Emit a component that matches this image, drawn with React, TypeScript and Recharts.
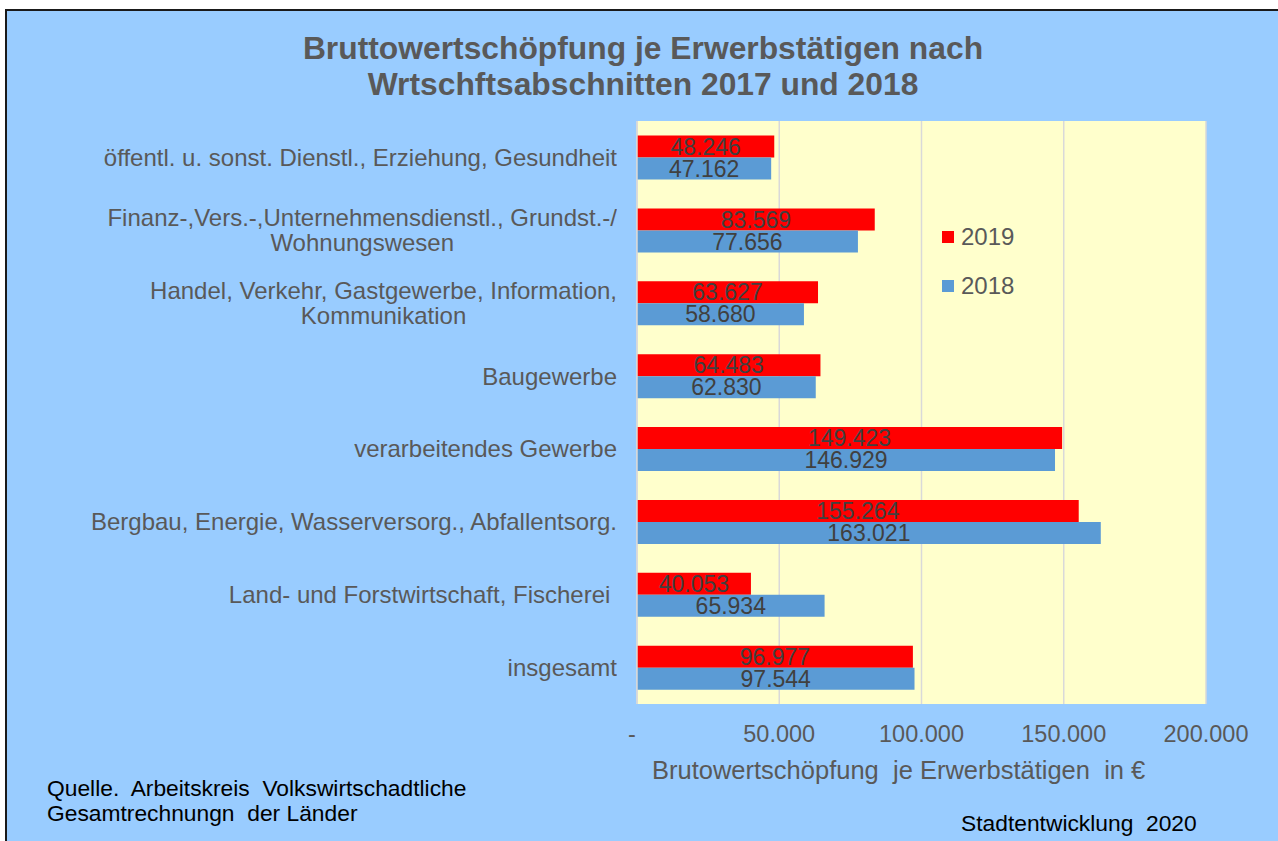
import React from 'react';
import { BarChart, Bar, XAxis, YAxis, CartesianGrid, LabelList, Legend } from 'recharts';

const categories = [
  'öffentl. u. sonst. Dienstl., Erziehung, Gesundheit',
  'Finanz-,Vers.-,Unternehmensdienstl., Grundst.-/\nWohnungswesen',
  'Handel, Verkehr, Gastgewerbe, Information,\nKommunikation',
  'Baugewerbe',
  'verarbeitendes Gewerbe',
  'Bergbau, Energie, Wasserversorg., Abfallentsorg.',
  'Land- und Forstwirtschaft, Fischerei ',
  'insgesamt',
];
const values2019 = [48246, 83569, 63627, 64483, 149423, 155264, 40053, 96977];
const values2018 = [47162, 77656, 58680, 62830, 146929, 163021, 65934, 97544];
const xTicks = [0, 50000, 100000, 150000, 200000];

const series = [
  { key: 'y2019', name: '2019', color: '#FF0000' },
  { key: 'y2018', name: '2018', color: '#5B9BD5' },
];

const data = categories.map((name, i) => ({ name, y2019: values2019[i], y2018: values2018[i] }));

const FONT = '"Liberation Sans", Arial, sans-serif';
const GREY = '#595959';

const fmt = (v: any) => {
  const n = Number(v);
  if (n === 0) return '-';
  return String(Math.round(n)).replace(/\B(?=(\d{3})+(?!\d))/g, '.');
};

const CategoryTick = (props: any) => {
  const { x, y, payload } = props;
  const lines = String(payload.value).split('\n');
  const right = x - 12;
  return (
    <foreignObject x={0} y={y - 35} width={right} height={70}>
      <div
        style={{
          width: '100%',
          height: '100%',
          display: 'flex',
          alignItems: 'center',
          justifyContent: 'flex-end',
          fontFamily: FONT,
          fontSize: 24,
          color: GREY,
          lineHeight: '25px',
        }}
      >
        <div style={{ textAlign: 'center', whiteSpace: 'pre' }}>
          {lines.map((l, i) => (
            <div key={i}>{l}</div>
          ))}
        </div>
      </div>
    </foreignObject>
  );
};

const ValueTick = (props: any) => {
  const { x, y, payload } = props;
  const isZero = Number(payload.value) === 0;
  return (
    <text
      x={isZero ? x - 5 : x}
      y={y}
      dy={16}
      textAnchor="middle"
      fontFamily={FONT}
      fontSize={23.5}
      fill={GREY}
    >
      {fmt(payload.value)}
    </text>
  );
};

const LegendContent = () => (
  <div style={{ fontFamily: FONT, fontSize: 24, color: GREY }}>
    {series.map((s) => (
      <div key={s.key} style={{ display: 'flex', alignItems: 'center', height: 49 }}>
        <div style={{ width: 12, height: 12, background: s.color, marginRight: 7 }} />
        <span>{s.name}</span>
      </div>
    ))}
  </div>
);

export default function App() {
  return (
    <div style={{ position: 'absolute', left: 0, top: 0, width: 1278, height: 841, overflow: 'hidden' }}>
      <div
        style={{
          position: 'absolute',
          left: 5,
          top: 9,
          width: 1290,
          height: 850,
          background: '#99CCFF',
          borderLeft: '2px solid #1a1a1a',
          borderTop: '2px solid #1a1a1a',
        }}
      />
      <div style={{ position: 'absolute', left: 0, top: 0 }}>
        <BarChart
          width={1278}
          height={841}
          data={data}
          layout="vertical"
          margin={{ top: 121, right: 72, bottom: 97, left: 0 }}
          barCategoryGap="20%"
          barGap={0}
        >
          <CartesianGrid horizontal={false} fill="#FFFFCC" stroke="#D9D9D9" strokeWidth={1.5} />
          <XAxis
            type="number"
            domain={[0, 200000]}
            ticks={xTicks}
            tick={<ValueTick />}
            axisLine={false}
            tickLine={false}
            tickMargin={16}
            height={40}
            interval={0}
          />
          <YAxis
            type="category"
            dataKey="name"
            width={637}
            tick={<CategoryTick />}
            axisLine={{ stroke: '#D9D9D9', strokeWidth: 1.5 }}
            tickLine={false}
            interval={0}
          />
          <Legend
            layout="horizontal"
            verticalAlign="middle"
            align="center"
            content={<LegendContent />}
            wrapperStyle={{ position: 'absolute', left: 942, top: 212, width: 120, height: 100 }}
          />
          {series.map((s) => (
            <Bar key={s.key} dataKey={s.key} name={s.name} fill={s.color} isAnimationActive={false}>
              <LabelList
                dataKey={s.key}
                position="center"
                formatter={fmt}
                fill="#404040"
                fontSize={23}
                fontFamily={FONT}
              />
            </Bar>
          ))}
        </BarChart>
      </div>
      <svg
        width={1278}
        height={841}
        style={{ position: 'absolute', left: 0, top: 0, pointerEvents: 'none' }}
        fontFamily={FONT}
      >
        <text x={643} y={59} textAnchor="middle" fontSize={31.8} fontWeight="bold" fill={GREY}>
          Bruttowertschöpfung je Erwerbstätigen nach
        </text>
        <text x={643} y={95} textAnchor="middle" fontSize={31.8} fontWeight="bold" fill={GREY}>
          Wrtschftsabschnitten 2017 und 2018
        </text>
        <text x={652} y={779} fontSize={25.5} fill={GREY} style={{ whiteSpace: 'pre' }}>
          {'Brutowertschöpfung  je Erwerbstätigen  in €'}
        </text>
        <text x={47} y={796} fontSize={22.8} fill="#000" style={{ whiteSpace: 'pre' }}>
          {'Quelle.  Arbeitskreis  Volkswirtschadtliche'}
        </text>
        <text x={47} y={821} fontSize={22.8} fill="#000" style={{ whiteSpace: 'pre' }}>
          {'Gesamtrechnungn  der Länder'}
        </text>
        <text x={961} y={831} fontSize={22.8} fill="#000" style={{ whiteSpace: 'pre' }}>
          {'Stadtentwicklung  2020'}
        </text>
      </svg>
    </div>
  );
}
